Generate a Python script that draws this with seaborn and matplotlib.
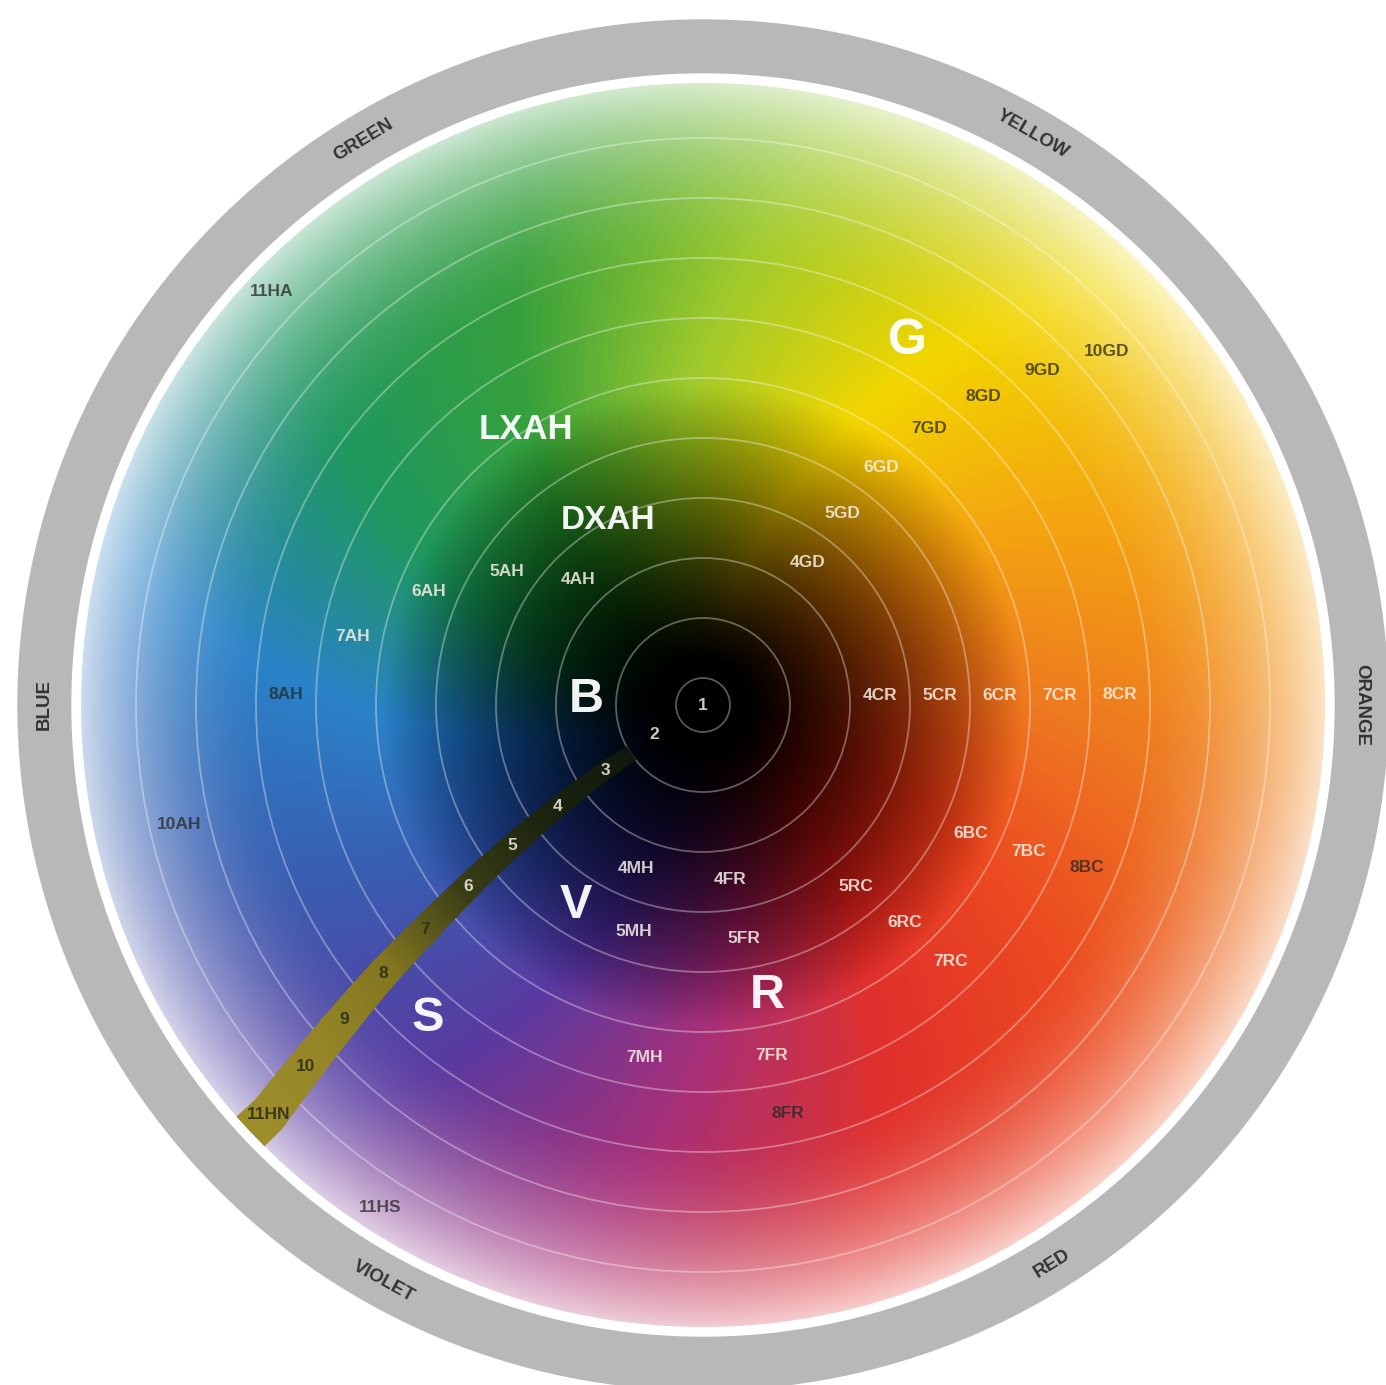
import re

import matplotlib

matplotlib.use("Agg")
import matplotlib.pyplot as plt
import numpy as np
import seaborn as sns
from matplotlib.collections import PolyCollection
from matplotlib.patches import Circle

# hue anchors every 30 degrees, counter-clockwise starting at the right (orange)
HUE_COLORS = [
    "#ee7a20", "#f4a510", "#f2d600", "#a0ca2c", "#36a03c", "#1f9860",
    "#2a82c8", "#3a5cb0", "#5a3aa0", "#a83078", "#e0302c", "#ec4a20", "#ee7a20",
]

# colour along the dark band, from circle 2 out to the rim
BAND_COLORS = ["#10180c", "#1a240e", "#3a3e16", "#82761f", "#968628", "#9e8e2a"]

RIM_NAMES = ["ORANGE", "YELLOW", "GREEN", "BLUE", "VIOLET", "RED"]
RIM_ANGLES = [0, 60, 121, 180, 241, 302]

RING_NUMBERS = ["1", "2", "3", "4", "5", "6", "7", "8", "9", "10", "11HN"]
RING_ANGLES = [0, 210.8, 213.8, 215.0, 216.4, 217.7, 219.0, 220.0, 221.2, 222.3, 223.3]

CODE_LABELS = [
    "4AH", "5AH", "6AH", "7AH", "8AH", "10AH", "11HA",
    "4GD", "5GD", "6GD", "7GD", "8GD", "9GD", "10GD",
    "4CR", "5CR", "6CR", "7CR", "8CR",
    "6BC", "7BC", "8BC",
    "5RC", "6RC", "7RC",
    "4FR", "5FR", "7FR", "8FR",
    "4MH", "5MH", "7MH",
    "11HS",
]
CODE_ANGLES = [
    135.0, 145.7, 157.5, 169.0, 178.5, 192.9, 136.2,
    53.7, 53.9, 53.0, 50.7, 47.7, 44.6, 41.2,
    3.2, 2.4, 1.9, 1.6, 1.4,
    334.3, 335.8, 337.1,
    310.2, 312.9, 314.0,
    278.8, 280.0, 281.1, 281.7,
    247.7, 252.9, 260.5,
    237.3,
]
DARK_CODES = ["8AH", "10AH", "11HA", "7GD", "8GD", "9GD", "10GD", "8BC", "8FR", "11HS"]

BIG_LABELS = ["B", "V", "S", "R", "G", "DXAH", "LXAH"]
BIG_RINGS = [3, 5, 8, 6, 8, 4.5, 6.5]
BIG_ANGLES = [177.5, 237.6, 228.7, 282.4, 60.7, 117.2, 122.7]
BIG_SIZES = [35, 35, 35, 35, 36, 24, 25]

STEP = 60          # px between circles
DISK_R = 622
WHITE_R = 631
RIM_R = 685
N_CIRCLES = 10


def circle_radius(n):
    return STEP * n - 33


def label_radius(ring):
    return max(STEP * ring - 63, 0)


def polar(r, deg):
    a = np.radians(deg)
    return r * np.cos(a), r * np.sin(a)


sns.set_theme(style="white")
plt.rcParams["font.family"] = ["Liberation Sans", "DejaVu Sans"]

fig = plt.figure(figsize=(13.86, 13.85), dpi=100)
ax = fig.add_axes([0, 0, 1, 1])
ax.set_xlim(-703, 683)
ax.set_ylim(-680, 705)
ax.axis("off")

ax.add_patch(Circle((0, 0), RIM_R, color="#b8b8b8", zorder=1))
ax.add_patch(Circle((0, 0), WHITE_R, color="white", zorder=2))

# colour wheel: hue by angle, dark centre, pastel rim
hue_cmap = sns.blend_palette(HUE_COLORS, n_colors=360, as_cmap=True)
xs = np.linspace(-650, 650, 1300)
X, Y = np.meshgrid(xs, xs)
r = np.hypot(X, Y)
theta = np.degrees(np.arctan2(Y, X)) % 360
look = (theta + 0.06 * (r - 350)) % 360
base = hue_cmap(look / 360)[..., :3]
v = np.clip((r - 45) / 275, 0, 1)
p = 1 + 1.0 * (1 - v)
col = base ** p[..., None] * (v ** 1.1)[..., None]
t = np.clip((r - 430) / 192, 0, 1)
w = (0.75 * t ** 1.8)[..., None]
col = col * (1 - w) + w

disk = Circle((0, 0), DISK_R, transform=ax.transData)
im = ax.imshow(col, extent=(-650, 650, -650, 650), origin="lower",
               interpolation="bilinear", zorder=3)
im.set_clip_path(disk)

for n in range(1, N_CIRCLES + 1):
    ax.add_patch(Circle((0, 0), circle_radius(n), fill=False, ec="white",
                        alpha=0.35, lw=1.3, zorder=4))

# dark band following the ring numbers
ring_r = [label_radius(i + 1) for i in range(len(RING_NUMBERS))]
rr = np.linspace(circle_radius(2), 650, 140)
ang = np.interp(rr, ring_r[2:], RING_ANGLES[2:])
half = np.interp(rr, [circle_radius(2), DISK_R], [8, 20])
band_cmap = sns.blend_palette(BAND_COLORS, n_colors=256, as_cmap=True)
polys, colors = [], []
for i in range(len(rr) - 1):
    pts = []
    for j, s in [(i, -1), (i + 1, -1), (i + 1, 1), (i, 1)]:
        da = np.degrees(half[j] / rr[j]) * s
        pts.append(polar(rr[j], ang[j] + da))
    polys.append(pts)
    colors.append(band_cmap(np.clip((rr[i] - circle_radius(2)) / (DISK_R - circle_radius(2)), 0, 1)))
band = PolyCollection(polys, facecolors=colors, edgecolors=colors, linewidths=0.6, zorder=5)
band.set_clip_path(Circle((0, 0), DISK_R, transform=ax.transData))
ax.add_collection(band)

# ring numbers
for i, (txt, a) in enumerate(zip(RING_NUMBERS, RING_ANGLES)):
    x, y = polar(label_radius(i + 1), a)
    c = "#f0ece0" if i < 6 else "#2a2a1a"
    ax.text(x, y, txt, ha="center", va="center", fontsize=12.5, fontweight="bold",
            color=c, alpha=0.85, zorder=6)

# shade codes
for txt, a in zip(CODE_LABELS, CODE_ANGLES):
    ring = int(re.match(r"\d+", txt).group())
    x, y = polar(label_radius(ring), a)
    dark = txt in DARK_CODES
    ax.text(x, y, txt, ha="center", va="center", fontsize=12.5, fontweight="bold",
            color="#262626" if dark else "#f4efe6", alpha=0.75 if dark else 0.85,
            zorder=6)

# big family letters
for txt, ring, a, fs in zip(BIG_LABELS, BIG_RINGS, BIG_ANGLES, BIG_SIZES):
    x, y = polar(label_radius(ring), a)
    ax.text(x, y, txt, ha="center", va="center", fontsize=fs, fontweight="bold",
            color="white", alpha=0.95, zorder=6)

# colour names on the grey rim
for txt, a in zip(RIM_NAMES, RIM_ANGLES):
    x, y = polar(659, a)
    rot = a - 90 if a <= 180 else a + 90
    ax.text(x, y, txt, ha="center", va="center", fontsize=13.5, fontweight="bold",
            color="#333333", rotation=rot, rotation_mode="anchor", zorder=6)

fig.savefig("out.png", dpi=100, facecolor="white")
